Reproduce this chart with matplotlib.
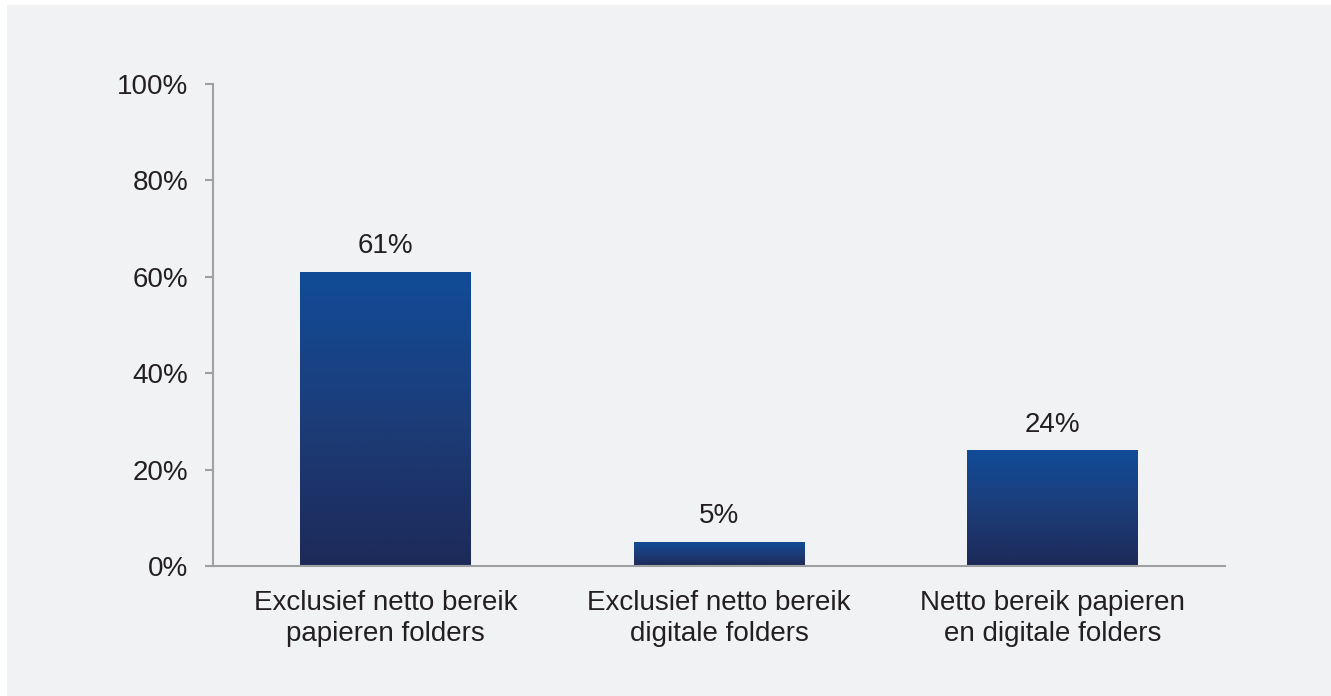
import numpy as np
import matplotlib.pyplot as plt
from matplotlib.colors import LinearSegmentedColormap
from matplotlib.patches import Rectangle

categories = ["Exclusief netto bereik\npapieren folders",
              "Exclusief netto bereik\ndigitale folders",
              "Netto bereik papieren\nen digitale folders"]
values = [61, 5, 24]
yticks = [0, 20, 40, 60, 80, 100]

plt.rcParams['font.family'] = ['Liberation Sans', 'DejaVu Sans']
text_color = '#231f20'
bg = '#f1f2f4'
axis_gray = '#a0a0a2'

fig = plt.figure(figsize=(13.31, 6.96), dpi=100, facecolor='white')
# light panel behind the chart
fig.patches.append(Rectangle((7 / 1331, 0), 1, 1 - 5 / 696, transform=fig.transFigure,
                             facecolor=bg, edgecolor='none', zorder=-10))

ax = fig.add_axes([213 / 1331, 130 / 696, 1012 / 1331, 482 / 696])
ax.set_facecolor('none')

x = np.arange(len(categories))
bars = ax.bar(x, values, width=0.51, color='none', edgecolor='none')

# vertical gradient inside each bar: dark navy at the base, brighter blue on top
cmap = LinearSegmentedColormap.from_list('bar_grad', ['#1c2a58', '#1c3d79', '#114c98'])
grad = np.linspace(0, 1, 256).reshape(-1, 1)
for b in bars:
    x0, w, h = b.get_x(), b.get_width(), b.get_height()
    im = ax.imshow(grad, cmap=cmap, origin='lower', aspect='auto',
                   extent=(x0, x0 + w, 0, h), zorder=2)
    im.set_clip_path(b)

for xi, v in zip(x, values):
    ax.annotate(f"{v}%", (xi, v), xytext=(0, 9), textcoords='offset points',
                ha='center', va='bottom', fontsize=20, color=text_color)

ax.set_xlim(-0.517, 2.517)
ax.set_ylim(0, 100)
ax.set_yticks(yticks)
ax.set_yticklabels([f"{t}%" for t in yticks], fontsize=20, color=text_color)
ax.set_xticks(x)
ax.set_xticklabels(categories, fontsize=20, color=text_color, linespacing=1.28)

for s in ['top', 'right']:
    ax.spines[s].set_visible(False)
for s in ['left', 'bottom']:
    ax.spines[s].set_color(axis_gray)
    ax.spines[s].set_linewidth(1.5)
ax.tick_params(axis='y', length=6, width=1.5, color=axis_gray, pad=12)
ax.tick_params(axis='x', length=0, pad=17)

fig.savefig('out.png', dpi=100, facecolor=fig.get_facecolor())
